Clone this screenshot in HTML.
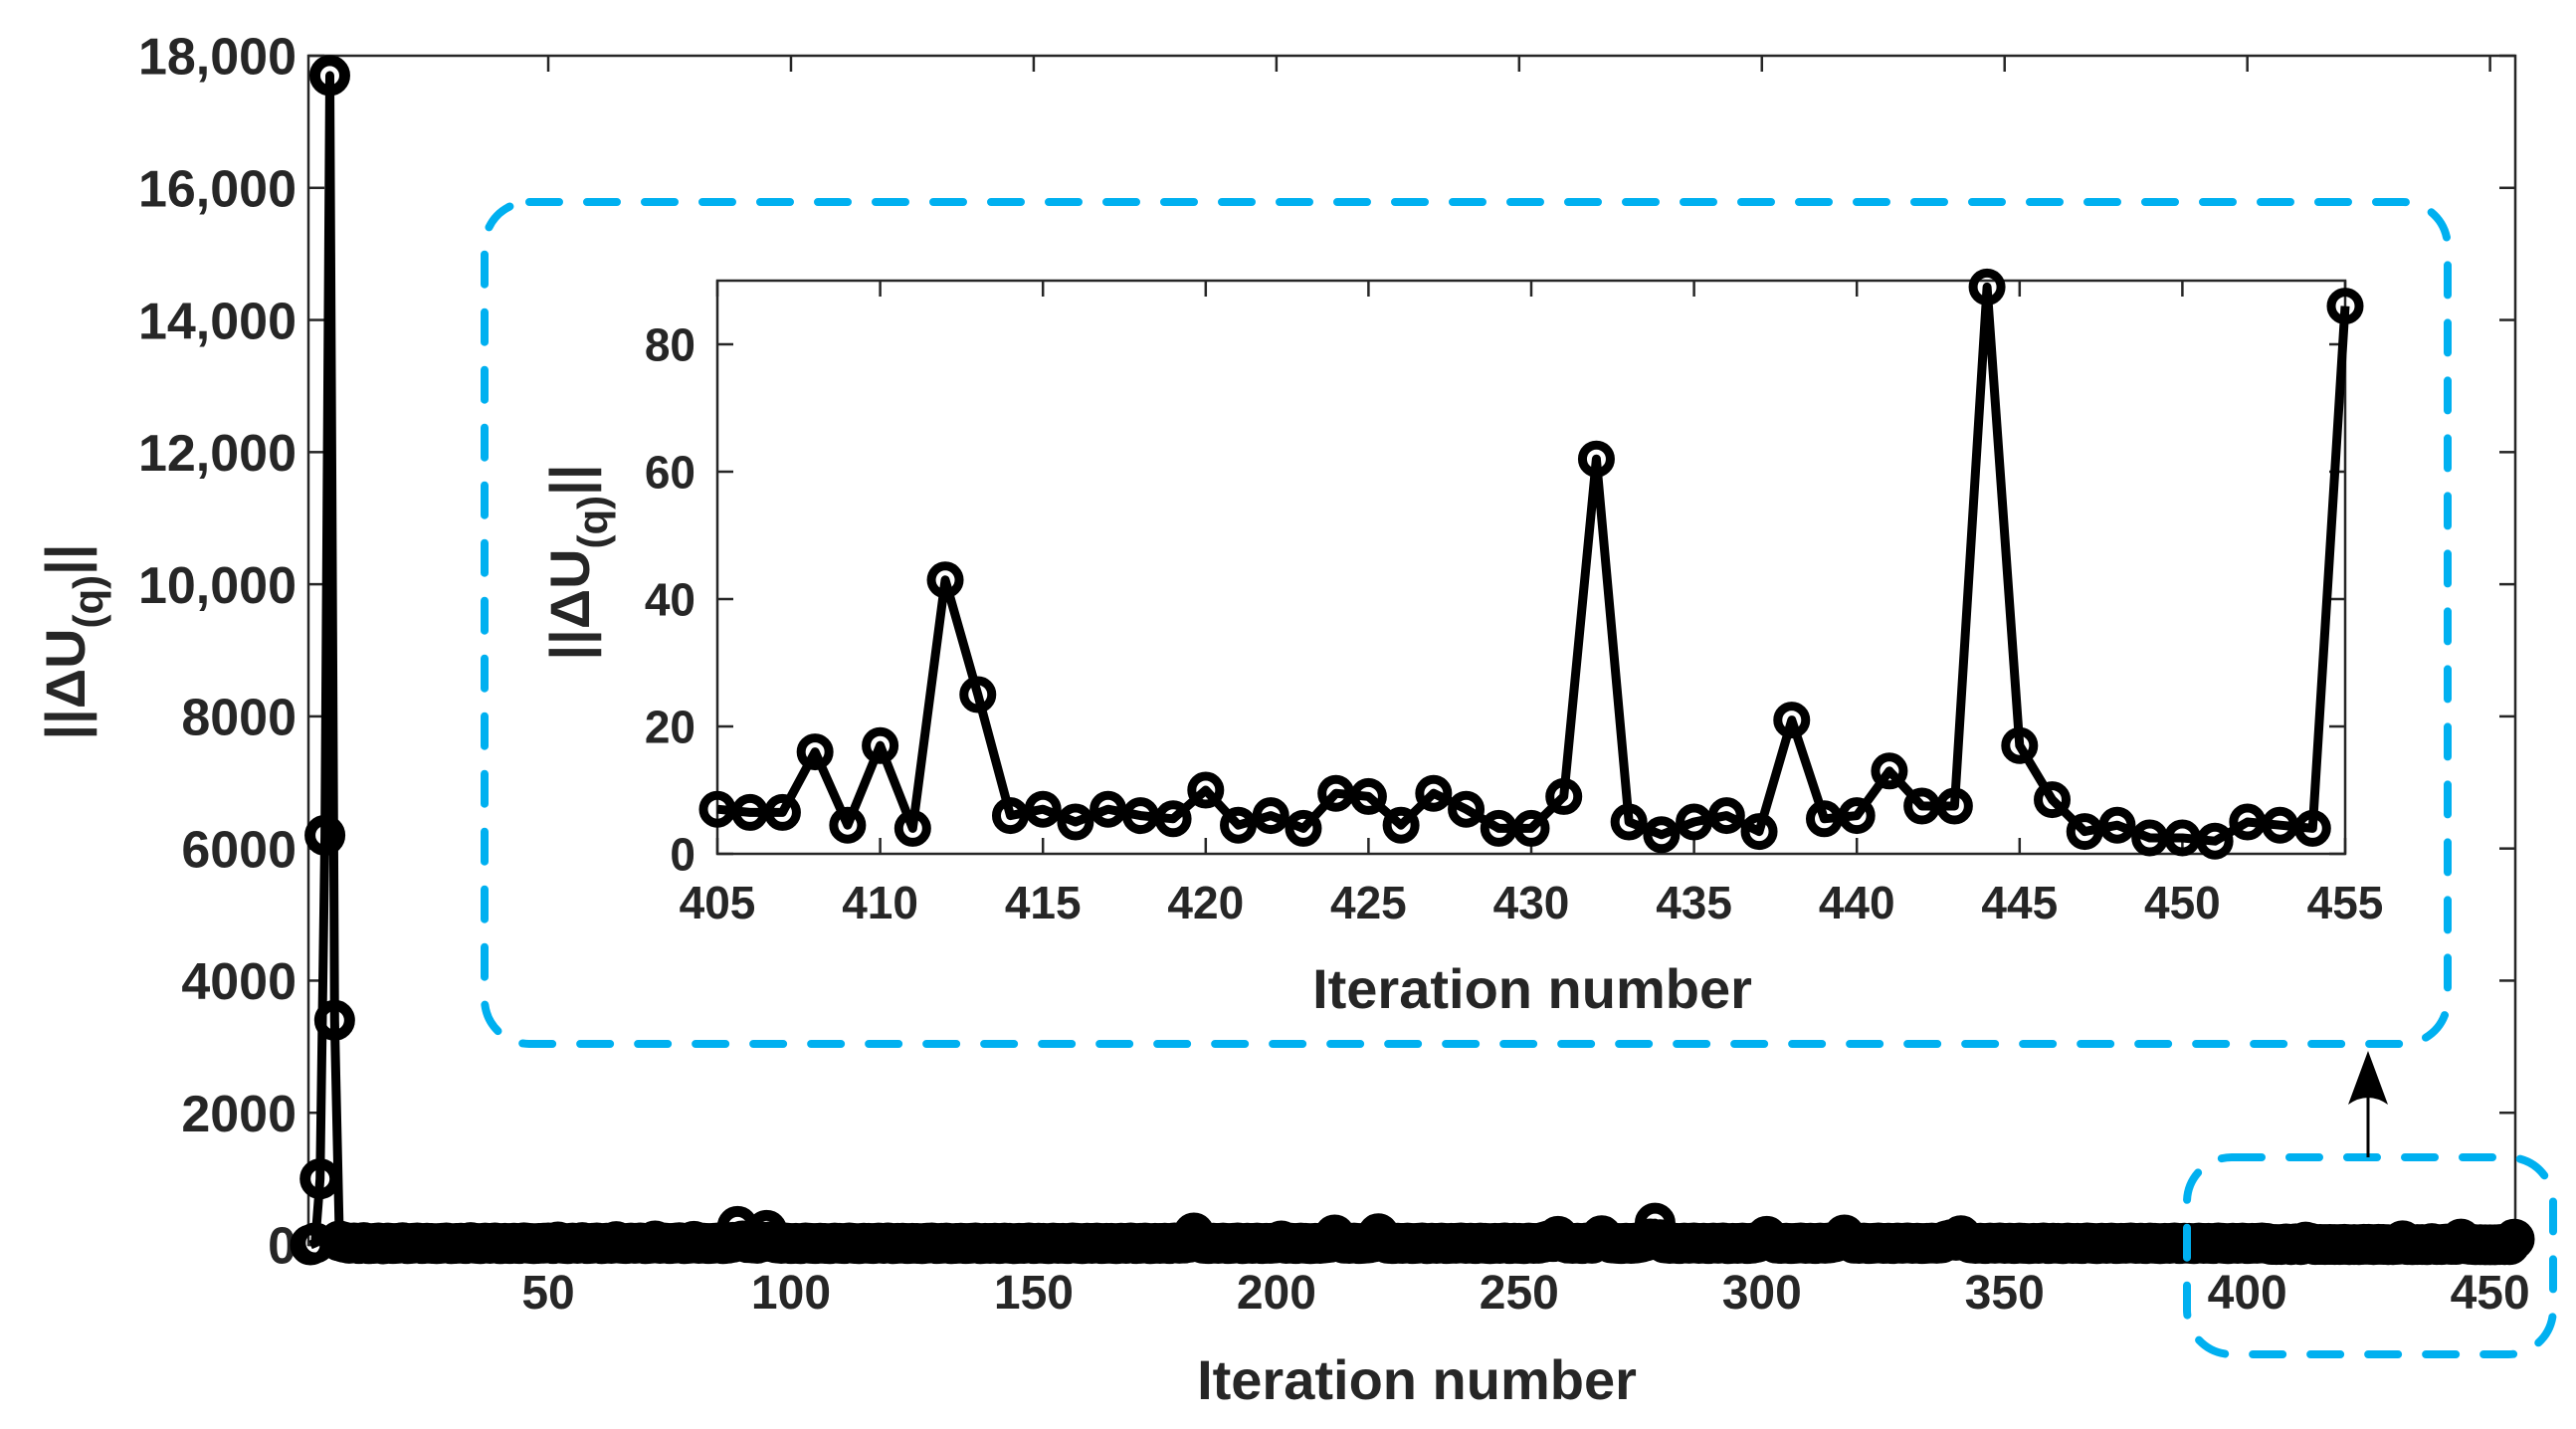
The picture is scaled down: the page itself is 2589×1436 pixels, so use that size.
<!DOCTYPE html>
<html><head><meta charset="utf-8"><style>
html,body{margin:0;padding:0;background:#fff;}
svg{display:block;}
text{font-family:"Liberation Sans",Arial,sans-serif;font-weight:bold;fill:#262626;}
.narrow{font-family:"Liberation Sans Narrow","Liberation Sans",sans-serif;}
</style></head><body>
<svg id="chart" width="2589" height="1436" viewBox="0 0 2589 1436" xmlns="http://www.w3.org/2000/svg">
<g id="main"></g>
<g id="inset"></g>
<g id="annot"></g>
</svg>
<script>
const mainHead = [0,30,1000,6200,17700,3400,60];
const mainBody = [40,25,30,20,35,18,22,30,15,28,20,25,33,18,24,30,20,26,22,19,
25,30,18,22,27,20,35,24,19,28,22,30,18,25,21,27,20,32,24,18,
22,26,30,20,45,25,19,28,22,35,20,24,30,18,26,22,50,25,20,28,
24,30,19,25,60,22,28,20,26,33,18,24,55,22,27,20,25,30,19,26,
40,280,60,35,30,25,45,220,50,30,22,28,20,25,18,30,24,20,26,22,
19,28,24,20,30,22,18,26,25,20,28,22,30,19,24,27,20,25,22,18,
26,30,20,24,28,19,22,27,20,25,30,18,24,22,26,20,28,24,19,25,
22,30,20,26,24,18,28,22,25,20,30,24,19,26,22,28,20,25,24,18,
26,22,30,20,25,28,19,24,22,26,20,30,24,28,40,180,45,25,20,26,
22,28,20,24,30,19,26,22,28,20,25,24,30,60,22,26,20,28,24,19,
25,22,30,40,150,50,26,22,28,20,24,30,45,170,55,25,20,26,22,28,
20,24,30,19,26,22,28,20,25,24,30,22,26,20,28,24,19,25,22,30,
20,26,24,18,28,22,25,40,60,50,130,50,28,22,26,20,30,24,70,140,
60,30,24,20,26,22,28,40,60,90,330,80,30,22,26,20,28,24,30,22,
26,20,28,24,30,19,25,22,28,20,26,40,70,130,60,28,22,26,20,24,
30,22,26,20,28,24,30,45,70,150,60,26,22,28,20,24,30,22,26,20,
28,24,30,22,26,20,25,28,24,30,60,80,70,140,60,30,22,26,20,28,
24,30,22,26,20,28,24,19,25,22,30,20,26,24,18,28,22,25,20,30,
24,19,26,22,28,20,25,24,30,22,26,20,28,24,19,25,22,30,20,26,
24,18,28,22,25,20,30,24,19,26,22,28,20,25,24,30,22];
const insetIters = [];
for (let i=405;i<=455;i++) insetIters.push(i);
const insetValues = [7,6.5,6.5,16,4.5,17,4,43,25,6,7,5,7,6,5.5,10,4.5,6,4,9.5,9,4.5,9.5,7,4,4,9,62,5,3,5,6,3.5,21,5.5,6,13,7.5,7.5,89,17,8.5,3.5,4.5,2.5,2.5,2,5,4.5,4,86];
const mainValues = mainHead.concat(mainBody, insetValues);
const mainXTicks = [50,100,150,200,250,300,350,400,450];
const mainYTicks = [0,2000,4000,6000,8000,10000,12000,14000,16000,18000];
const mainYLabels = ["0","2000","4000","6000","8000","10,000","12,000","14,000","16,000","18,000"];
const insetXTicks = [405,410,415,420,425,430,435,440,445,450,455];
const insetYTicks = [0,20,40,60,80];

const NS="http://www.w3.org/2000/svg";
function mk(tag, attrs, parent, txt){const e=document.createElementNS(NS,tag);for(const k in attrs)e.setAttribute(k,attrs[k]);if(txt!==undefined)e.textContent=txt;parent.appendChild(e);return e;}

function drawAxes(g, cfg){
  const X=v=>cfg.L+(v-cfg.x0)/(cfg.x1-cfg.x0)*(cfg.R-cfg.L);
  const Y=v=>cfg.B-(v-cfg.y0)/(cfg.y1-cfg.y0)*(cfg.B-cfg.T);
  const box=mk('rect',{x:cfg.L,y:cfg.T,width:cfg.R-cfg.L,height:cfg.B-cfg.T,fill:'none',stroke:'#262626','stroke-width':2.5},g);
  
  
  cfg.xt.forEach(v=>{
    const x=X(v);
    mk('line',{x1:x,y1:cfg.B,x2:x,y2:cfg.B-cfg.tl,stroke:'#262626','stroke-width':2.5},g);
    mk('line',{x1:x,y1:cfg.T,x2:x,y2:cfg.T+cfg.tl,stroke:'#262626','stroke-width':2.5},g);
    const t=mk('text',{x:x,y:cfg.B+cfg.xlOff,'text-anchor':'middle','font-size':cfg.fs,class:'narrow'},g,String(v));
    
    
  });
  cfg.yt.forEach((v,i)=>{
    const y=Y(v);
    mk('line',{x1:cfg.L,y1:y,x2:cfg.L+cfg.tl,y2:y,stroke:'#262626','stroke-width':2.5},g);
    mk('line',{x1:cfg.R,y1:y,x2:cfg.R-cfg.tl,y2:y,stroke:'#262626','stroke-width':2.5},g);
    const t=mk('text',{x:cfg.L-cfg.ylOff,y:y+cfg.yfs*0.36,'text-anchor':'end','font-size':cfg.yfs},g,cfg.yl?cfg.yl[i]:String(v));
    
    
  });
  let d='';
  cfg.xs.forEach((xv,i)=>{d+=(i?'L':'M')+X(xv).toFixed(1)+' '+Y(cfg.ys[i]).toFixed(1);});
  const p=mk('path',{d:d,fill:'none',stroke:'#000','stroke-width':cfg.lw,'stroke-linejoin':'round'},g);
  
  
  cfg.xs.forEach((xv,i)=>{
    const c=mk('circle',{cx:X(xv),cy:Y(cfg.ys[i]),r:cfg.mr,fill:'none',stroke:'#000','stroke-width':cfg.mw},g);
    
    
  });
}

const mainX = mainValues.map((v,i)=>i+1);
drawAxes(document.getElementById('main'),{name:'main',L:310,R:2528,T:56,B:1251,x0:0.6,x1:455.2,y0:0,y1:18000,
  xt:mainXTicks,yt:mainYTicks,yl:mainYLabels,xs:mainX,ys:mainValues,tl:16,fs:48,yfs:52,xlOff:64,ylOff:12,lw:9,mr:15,mw:11});
drawAxes(document.getElementById('inset'),{name:'inset',L:721,R:2357,T:282,B:858,x0:405,x1:455,y0:0,y1:90,
  xt:insetXTicks,yt:insetYTicks,xs:insetIters,ys:insetValues,tl:16,fs:46,yfs:46,xlOff:65,ylOff:22,lw:9,mr:14,mw:9});

const a=document.getElementById('annot');
let t;
t=mk('text',{x:1424,y:1406,'text-anchor':'middle','font-size':56},a,'Iteration number');


t=mk('text',{x:1540,y:1013,'text-anchor':'middle','font-size':56},a,'Iteration number');


function ylab(x,y,name){
  const tt=mk('text',{x:0,y:0,'text-anchor':'middle','font-size':56,transform:`translate(${x},${y}) rotate(-90)`},a);
  
  
  mk('tspan',{},tt,'||ΔU');
  mk('tspan',{'font-size':42,dy:18},tt,'(q)');
  mk('tspan',{dy:-18},tt,'||');
}
ylab(85,645,'y-axis-title');
ylab(592,565,'inset-y-axis-title');

const r1=mk('rect',{x:487,y:203,width:1973,height:846,rx:45,ry:45,fill:'none',stroke:'#00b0f0','stroke-width':8,'stroke-dasharray':'30 28','stroke-linecap':'round'},a);


const r2=mk('rect',{x:2198,y:1163,width:368,height:198,rx:45,ry:45,fill:'none',stroke:'#00b0f0','stroke-width':8,'stroke-dasharray':'30 28','stroke-linecap':'round'},a);


const ar=mk('line',{x1:2380,y1:1163,x2:2380,y2:1090,stroke:'#000','stroke-width':3},a);


const ah=mk('path',{d:'M2380 1056 L2400 1110 Q2380 1096 2360 1110 Z',fill:'#000'},a);


</script>
</body></html>
